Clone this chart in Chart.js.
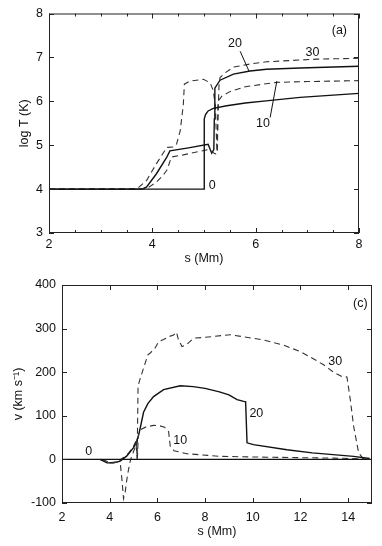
<!DOCTYPE html>
<html>
<head>
<meta charset="utf-8">
<script src="https://cdn.jsdelivr.net/npm/chart.js@4.4.0/dist/chart.umd.min.js"></script>
<style>
  html, body { margin: 0; padding: 0; background: #fff; }
  #painelA { position: absolute; left: 0; top: 0; }
  #painelC { position: absolute; left: 0; top: 270px; }
</style>
</head>
<body>
<canvas id="painelA" width="382" height="270"></canvas>
<canvas id="painelC" width="382" height="276"></canvas>
<script>
// ---- Painel (a): log T contra s ----
const ticksXA = [2, 4, 6, 8];
const ticksXAmenor = [2.5, 3, 3.5, 4.5, 5, 5.5, 6.5, 7, 7.5];
const ticksYA = [3, 4, 5, 6, 7, 8];

const sA0 = [2, 5.0, 5.0, 5.01, 5.03, 5.08, 5.18, 5.44, 5.8, 6.2, 6.86, 7.5, 8];
const logT0 = [4, 4, 5.45, 5.6, 5.7, 5.78, 5.84, 5.9, 5.96, 6.01, 6.09, 6.14, 6.18];

const sA10 = [2, 3.89, 4.08, 4.2, 4.28, 4.37, 4.6, 4.92, 5.08, 5.15, 5.22, 5.26, 5.27, 5.35, 5.5, 5.8, 6.2, 6.4, 7, 8];
const logT10 = [4, 4.01, 4.16, 4.3, 4.43, 4.73, 4.78, 4.86, 4.9, 4.85, 4.8, 4.82, 6.0, 6.12, 6.22, 6.33, 6.4, 6.43, 6.45, 6.47];

const sA20 = [2, 3.8, 3.89, 4.08, 4.28, 4.34, 4.7, 5.08, 5.12, 5.15, 5.19, 5.2, 5.21, 5.31, 5.57, 5.89, 6.21, 6.86, 8];
const logT20 = [4, 4, 4.05, 4.35, 4.73, 4.87, 4.94, 5.02, 4.9, 4.82, 4.9, 5.6, 6.3, 6.48, 6.62, 6.69, 6.73, 6.76, 6.8];

const sA30 = [2, 3.7, 3.89, 4.08, 4.28, 4.41, 4.47, 4.54, 4.6, 4.62, 4.73, 4.99, 5.12, 5.18, 5.22, 5.25, 5.27, 5.29, 5.31, 5.41, 5.57, 5.89, 6.21, 7.18, 8];
const logT30 = [4, 4, 4.2, 4.58, 4.95, 4.96, 5.03, 5.33, 5.93, 6.39, 6.46, 6.5, 6.42, 6.24, 5.9, 4.85, 5.6, 6.35, 6.54, 6.65, 6.78, 6.85, 6.9, 6.96, 6.98];

// ---- Painel (c): v contra s ----
const ticksXC = [2, 4, 6, 8, 10, 12, 14];
const ticksYC = [-100, 0, 100, 200, 300, 400];

const sC0 = [2, 15];
const v0 = [0, 0];

const sC10 = [3.7, 3.9, 4.1, 4.3, 4.45, 4.52, 4.58, 4.65, 4.72, 4.79, 4.86, 4.93, 5.05, 5.12, 5.16, 5.2, 5.28, 5.5, 5.84, 6.1, 6.3, 6.47, 6.54, 6.7, 7.24, 8.64, 10.6, 13.4, 14.8];
const v10 = [0, -5, -8, -6, -12, -50, -90, -75, -46, -23, -4, 8, 25, 40, 0, 55, 68, 74, 78, 77, 74, 64, 30, 20, 13, 7, 5, 3, 1];

const sC20 = [3.6, 3.89, 4.17, 4.44, 4.72, 5.0, 5.14, 5.21, 5.28, 5.42, 5.6, 5.84, 6.26, 6.96, 7.5, 8.0, 8.6, 9.0, 9.34, 9.62, 9.7, 9.76, 10.03, 11.43, 12.5, 14.23, 14.9];
const v20 = [0, -8, -8, -4, 8, 27, 42, 55, 72, 108, 128, 144, 160, 169, 167, 163, 155, 148, 137, 133, 132, 38, 34, 22, 15, 7, 2];

const sC30 = [3.6, 3.8, 4.0, 4.2, 4.4, 4.6, 4.8, 5.0, 5.1, 5.15, 5.19, 5.25, 5.4, 5.6, 5.7, 5.9, 6.05, 6.26, 6.5, 6.68, 6.8, 6.88, 7.03, 7.2, 7.52, 8.0, 9.06, 10.45, 11.3, 12.0, 12.5, 12.97, 13.39, 13.74, 13.95, 14.09, 14.23, 14.44, 14.65, 14.9];
const v30 = [0, -5, -8, -6, -2, 5, 15, 30, 42, 0, 168, 180, 206, 240, 244, 255, 270, 275, 282, 285, 292, 275, 259, 262, 278, 280, 286, 274, 262, 247, 232, 217, 200, 190, 189, 137, 76, 15, 0, 0];

Chart.defaults.font.family = '"Liberation Sans", Arial, sans-serif';
Chart.defaults.font.size = 12.5;
Chart.defaults.color = '#111';

function pontos(xs, ys) {
    return xs.map((x, i) => ({ x: x, y: ys[i] }));
}

function serie(xs, ys, tracejada) {
    return {
        data: pontos(xs, ys),
        borderColor: tracejada ? '#333' : '#111',
        borderWidth: tracejada ? 1.1 : 1.4,
        borderDash: tracejada ? [6, 4] : [],
        pointRadius: 0,
        tension: 0,
        fill: false
    };
}

// Moldura com marcas para dentro nos quatro lados
const moldura = {
    id: 'moldura',
    afterDatasetsDraw(chart, args, opts) {
        const { ctx, chartArea: a, scales } = chart;
        ctx.save();
        ctx.strokeStyle = '#222';
        ctx.lineWidth = 1;
        ctx.strokeRect(a.left + 0.5, a.top + 0.5, a.right - a.left - 1, a.bottom - a.top - 1);
        ctx.beginPath();
        const marcaX = (v, len) => {
            const px = Math.round(scales.x.getPixelForValue(v)) + 0.5;
            ctx.moveTo(px, a.bottom); ctx.lineTo(px, a.bottom - len);
            ctx.moveTo(px, a.top); ctx.lineTo(px, a.top + len);
        };
        const marcaY = (v, len) => {
            const py = Math.round(scales.y.getPixelForValue(v)) + 0.5;
            ctx.moveTo(a.left, py); ctx.lineTo(a.left + len, py);
            ctx.moveTo(a.right, py); ctx.lineTo(a.right - len, py);
        };
        (opts.xMaior || []).forEach(v => marcaX(v, 5));
        (opts.xMenor || []).forEach(v => marcaX(v, 3));
        (opts.yMaior || []).forEach(v => marcaY(v, 5));
        ctx.stroke();
        ctx.restore();
    }
};

// Rótulos das curvas e linhas de chamada
const rotulos = {
    id: 'rotulos',
    afterDatasetsDraw(chart, args, opts) {
        const { ctx, scales } = chart;
        ctx.save();
        ctx.fillStyle = '#111';
        ctx.strokeStyle = '#111';
        ctx.lineWidth = 1;
        ctx.font = '12.5px "Liberation Sans", Arial, sans-serif';
        ctx.textAlign = 'center';
        ctx.textBaseline = 'middle';
        (opts.textos || []).forEach(r => {
            ctx.fillText(r.t, scales.x.getPixelForValue(r.x), scales.y.getPixelForValue(r.y));
        });
        (opts.linhas || []).forEach(l => {
            ctx.beginPath();
            ctx.moveTo(scales.x.getPixelForValue(l[0]), scales.y.getPixelForValue(l[1]));
            ctx.lineTo(scales.x.getPixelForValue(l[2]), scales.y.getPixelForValue(l[3]));
            ctx.stroke();
        });
        ctx.restore();
    }
};

function eixos(cfg) {
    return {
        x: {
            type: 'linear', min: cfg.xmin, max: cfg.xmax,
            afterBuildTicks: s => { s.ticks = cfg.ticksX.map(v => ({ value: v })); },
            afterFit: s => { s.height = cfg.altX; },
            grid: { display: false, drawTicks: false },
            border: { display: false },
            ticks: { padding: cfg.padX, maxRotation: 0 },
            title: { display: true, text: 's (Mm)', padding: { top: 0, bottom: cfg.padTituloX } }
        },
        y: {
            type: 'linear', min: cfg.ymin, max: cfg.ymax,
            afterBuildTicks: s => { s.ticks = cfg.ticksY.map(v => ({ value: v })); },
            afterFit: s => { s.width = cfg.largY; },
            grid: { display: false, drawTicks: false },
            border: { display: false },
            ticks: { padding: 6 },
            title: { display: true, text: cfg.tituloY, padding: { top: cfg.padTituloY, bottom: 0 } }
        }
    };
}

new Chart(document.getElementById('painelA'), {
    type: 'line',
    data: {
        datasets: [
            serie(sA0, logT0, false),
            serie(sA10, logT10, true),
            serie(sA20, logT20, false),
            serie(sA30, logT30, true)
        ]
    },
    options: {
        responsive: false,
        animation: false,
        devicePixelRatio: 1,
        layout: { padding: { left: 0, right: 23, top: 12, bottom: 0 } },
        scales: eixos({
            xmin: 2, xmax: 8, ticksX: ticksXA, altX: 37, padX: 4.5, padTituloX: 4,
            ymin: 3, ymax: 8, ticksY: ticksYA, largY: 49, tituloY: 'log T (K)', padTituloY: 17
        }),
        plugins: {
            legend: { display: false },
            tooltip: { enabled: false },
            moldura: { xMaior: ticksXA, xMenor: ticksXAmenor, yMaior: ticksYA },
            rotulos: {
                textos: [
                    { t: '(a)', x: 7.62, y: 7.61 },
                    { t: '20', x: 5.6, y: 7.31 },
                    { t: '30', x: 7.1, y: 7.1 },
                    { t: '10', x: 6.14, y: 5.5 },
                    { t: '0', x: 5.16, y: 4.09 }
                ],
                linhas: [
                    [5.7, 7.14, 5.87, 6.69],
                    [6.28, 5.63, 6.41, 6.46]
                ]
            }
        }
    },
    plugins: [moldura, rotulos]
});

new Chart(document.getElementById('painelC'), {
    type: 'line',
    data: {
        datasets: [
            serie(sC0, v0, false),
            serie(sC10, v10, true),
            serie(sC20, v20, false),
            serie(sC30, v30, true)
        ]
    },
    options: {
        responsive: false,
        animation: false,
        devicePixelRatio: 1,
        layout: { padding: { left: 0, right: 10, top: 15, bottom: 0 } },
        scales: eixos({
            xmin: 2, xmax: 15, ticksX: ticksXC, altX: 43, padX: 6.8, padTituloX: 6.5,
            ymin: -100, ymax: 400, ticksY: ticksYC, largY: 62, tituloY: 'v (km s\u207B\u00B9)', padTituloY: 11
        }),
        plugins: {
            legend: { display: false },
            tooltip: { enabled: false },
            moldura: { xMaior: ticksXC, yMaior: ticksYC },
            rotulos: {
                textos: [
                    { t: '(c)', x: 14.51, y: 358 },
                    { t: '30', x: 13.46, y: 224 },
                    { t: '20', x: 10.15, y: 105 },
                    { t: '10', x: 6.96, y: 44 },
                    { t: '0', x: 3.12, y: 17 }
                ]
            }
        }
    },
    plugins: [moldura, rotulos]
});
</script>
</body>
</html>
